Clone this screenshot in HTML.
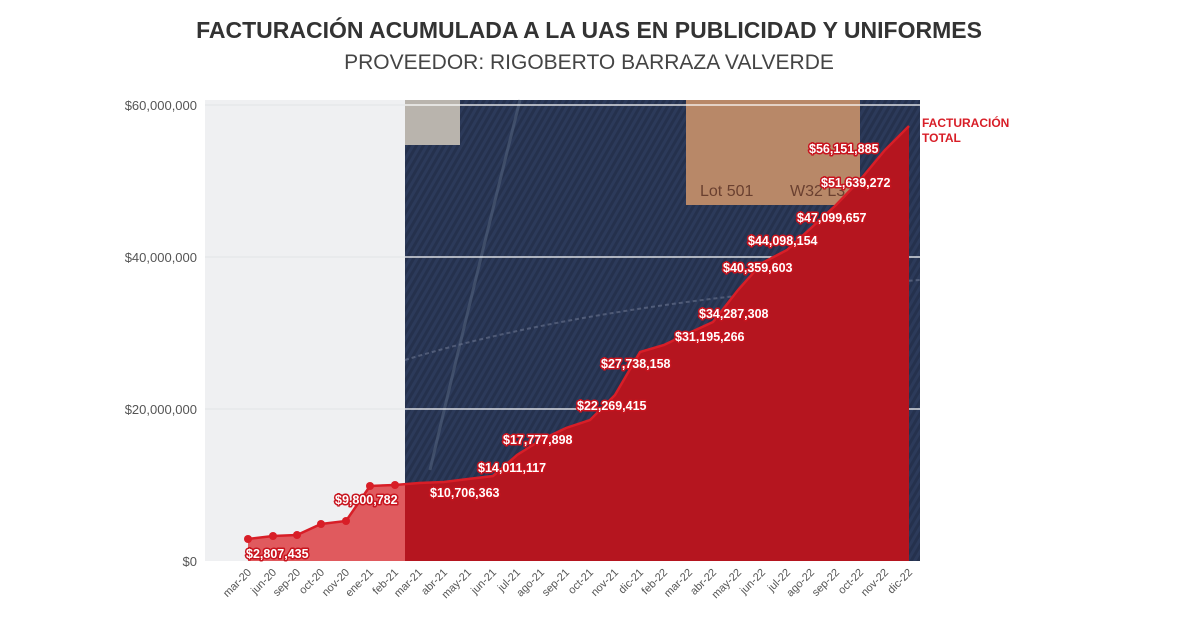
<!DOCTYPE html>
<html><head><meta charset="utf-8"><style>
body{margin:0;background:#fff;width:1179px;height:630px;overflow:hidden;font-family:"Liberation Sans",sans-serif}
</style></head><body>
<svg width="1179" height="630" viewBox="0 0 1179 630" xmlns="http://www.w3.org/2000/svg" font-family="Liberation Sans, sans-serif">
<defs>
<pattern id="den" width="6" height="6" patternUnits="userSpaceOnUse" patternTransform="rotate(30)">
<rect width="6" height="6" fill="#2c3a5a"/><rect width="3" height="6" fill="#25314d"/>
</pattern>
</defs>
<text x="589" y="38" text-anchor="middle" font-size="23" font-weight="bold" fill="#333">FACTURACIÓN ACUMULADA A LA UAS EN PUBLICIDAD Y UNIFORMES</text>
<text x="589" y="69" text-anchor="middle" font-size="21" fill="#444">PROVEEDOR: RIGOBERTO BARRAZA VALVERDE</text>
<rect x="205" y="100" width="200" height="461" fill="#eff0f2"/>
<rect x="405" y="100" width="515" height="461" fill="url(#den)"/>
<rect x="405" y="100" width="55" height="45" fill="#b9b4ad"/>
<path d="M430 470 Q470 300 520 100" stroke="#51607c" stroke-width="3" fill="none" opacity=".6"/>
<path d="M405 360 Q600 300 920 280" stroke="#6a7590" stroke-width="2" fill="none" stroke-dasharray="4 3" opacity=".6"/>
<rect x="686" y="100" width="174" height="105" fill="#b88868"/>
<text x="700" y="196" font-size="16" fill="#6a4030">Lot 501</text>
<text x="790" y="196" font-size="16" fill="#6a4030">W32 L32</text>
<g stroke="#fff" stroke-width="1.2"><line x1="405" y1="105" x2="920" y2="105"/><line x1="405" y1="257" x2="920" y2="257"/><line x1="405" y1="409" x2="920" y2="409"/></g>
<g stroke="#e2e3e5" stroke-width="1"><line x1="205" y1="105" x2="405" y2="105"/><line x1="205" y1="257" x2="405" y2="257"/><line x1="205" y1="409" x2="405" y2="409"/></g>
<clipPath id="cl"><rect x="205" y="100" width="200" height="461"/></clipPath>
<clipPath id="cr"><rect x="405" y="100" width="515" height="461"/></clipPath>
<path id="ar" d="M248 539 L273 536 L297 535 L321 524 L346 521 L370 486 L395 485 L419 483 L444 482 L468 479 L493 476 L517 455 L541 440 L566 428 L590 420 L615 395 L640 352 L664 345 L689 333 L713 322 L738 290 L762 263 L787 250 L811 228 L836 205 L860 180 L885 150 L909 126 L909 561 L248 561 Z" fill="#e05a5e" clip-path="url(#cl)"/>
<path d="M248 539 L273 536 L297 535 L321 524 L346 521 L370 486 L395 485 L419 483 L444 482 L468 479 L493 476 L517 455 L541 440 L566 428 L590 420 L615 395 L640 352 L664 345 L689 333 L713 322 L738 290 L762 263 L787 250 L811 228 L836 205 L860 180 L885 150 L909 126 L909 561 L248 561 Z" fill="#b5151f" clip-path="url(#cr)"/>
<polyline points="248,539 273,536 297,535 321,524 346,521 370,486 395,485 419,483 444,482 468,479 493,476 517,455 541,440 566,428 590,420 615,395 640,352 664,345 689,333 713,322 738,290 762,263 787,250 811,228 836,205 860,180 885,150 909,126" fill="none" stroke="#d81e27" stroke-width="2.5"/>
<g fill="#d81e27"><circle cx="248" cy="539" r="4"/><circle cx="273" cy="536" r="4"/><circle cx="297" cy="535" r="4"/><circle cx="321" cy="524" r="4"/><circle cx="346" cy="521" r="4"/><circle cx="370" cy="486" r="4"/><circle cx="395" cy="485" r="4"/></g>
<g font-size="13" fill="#555" text-anchor="end"><text x="197" y="110">$60,000,000</text><text x="197" y="262">$40,000,000</text><text x="197" y="414">$20,000,000</text><text x="197" y="566">$0</text></g>
<g font-size="11" fill="#555" text-anchor="end">
<text transform="translate(252,573) rotate(-45)">mar-20</text><text transform="translate(277,573) rotate(-45)">jun-20</text><text transform="translate(301,573) rotate(-45)">sep-20</text><text transform="translate(325,573) rotate(-45)">oct-20</text><text transform="translate(350,573) rotate(-45)">nov-20</text><text transform="translate(374,573) rotate(-45)">ene-21</text><text transform="translate(399,573) rotate(-45)">feb-21</text><text transform="translate(423,573) rotate(-45)">mar-21</text><text transform="translate(448,573) rotate(-45)">abr-21</text><text transform="translate(472,573) rotate(-45)">may-21</text><text transform="translate(497,573) rotate(-45)">jun-21</text><text transform="translate(521,573) rotate(-45)">jul-21</text><text transform="translate(545,573) rotate(-45)">ago-21</text><text transform="translate(570,573) rotate(-45)">sep-21</text><text transform="translate(594,573) rotate(-45)">oct-21</text><text transform="translate(619,573) rotate(-45)">nov-21</text><text transform="translate(644,573) rotate(-45)">dic-21</text><text transform="translate(668,573) rotate(-45)">feb-22</text><text transform="translate(693,573) rotate(-45)">mar-22</text><text transform="translate(717,573) rotate(-45)">abr-22</text><text transform="translate(742,573) rotate(-45)">may-22</text><text transform="translate(766,573) rotate(-45)">jun-22</text><text transform="translate(791,573) rotate(-45)">jul-22</text><text transform="translate(815,573) rotate(-45)">ago-22</text><text transform="translate(840,573) rotate(-45)">sep-22</text><text transform="translate(864,573) rotate(-45)">oct-22</text><text transform="translate(889,573) rotate(-45)">nov-22</text><text transform="translate(913,573) rotate(-45)">dic-22</text>
</g>
<g font-size="12.5" font-weight="bold" fill="#fff" stroke="#c8141e" stroke-width="3" paint-order="stroke" stroke-linejoin="round">
<text x="246" y="558">$2,807,435</text><text x="335" y="504">$9,800,782</text><text x="430" y="497">$10,706,363</text><text x="478" y="472">$14,011,117</text><text x="503" y="444">$17,777,898</text><text x="577" y="410">$22,269,415</text><text x="601" y="368">$27,738,158</text><text x="675" y="341">$31,195,266</text><text x="699" y="318">$34,287,308</text><text x="723" y="272">$40,359,603</text><text x="748" y="245">$44,098,154</text><text x="797" y="222">$47,099,657</text><text x="821" y="187">$51,639,272</text><text x="809" y="153">$56,151,885</text>
</g>
<g font-size="12" font-weight="bold" fill="#d81e27"><text x="922" y="127">FACTURACIÓN</text><text x="922" y="142">TOTAL</text></g>
</svg>
</body></html>
